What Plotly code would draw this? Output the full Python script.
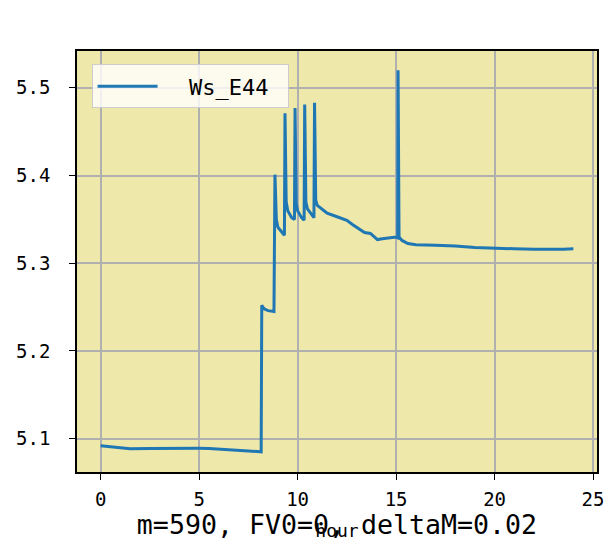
import plotly.graph_objects as go

# ---- data ----
hour = [0.0, 0.5, 1.0, 1.5, 2.5, 3.0, 4.0, 5.0, 5.5, 6.0, 6.5, 7.0, 7.5, 8.1, 8.15,
        8.18, 8.3, 8.5, 8.8,
        8.85, 8.92, 9.0, 9.2, 9.33,
        9.36, 9.42, 9.5, 9.7, 9.84,
        9.87, 9.93, 10.0, 10.2, 10.33,
        10.36, 10.42, 10.5, 10.7, 10.83,
        10.86, 10.92, 11.0, 11.3, 11.5, 12.0, 12.5, 12.8, 13.1, 13.4, 13.7, 13.9,
        14.05, 14.3, 14.7, 15.0, 15.08,
        15.1, 15.15, 15.3, 15.6, 16.0, 17.0, 18.0, 19.0, 20.0, 21.0, 22.0, 22.7,
        23.5, 24.0]
ws_e44 = [5.092, 5.091, 5.090, 5.0885, 5.0888, 5.089, 5.0892, 5.089, 5.0888, 5.088,
          5.087, 5.0865, 5.0858, 5.0845, 5.085,
          5.252, 5.248, 5.246, 5.245,
          5.401, 5.350, 5.341, 5.336, 5.332,
          5.471, 5.370, 5.360, 5.352, 5.350,
          5.477, 5.368, 5.360, 5.352, 5.349,
          5.481, 5.370, 5.362, 5.355, 5.352,
          5.483, 5.372, 5.366, 5.360, 5.357, 5.353, 5.349, 5.344, 5.339, 5.335,
          5.334, 5.330,
          5.327, 5.328, 5.329, 5.330, 5.329,
          5.520, 5.330, 5.326, 5.3225, 5.321, 5.3205, 5.3198, 5.318, 5.317,
          5.3165, 5.316, 5.3158, 5.316, 5.3165]

series_name = "Ws_E44"
title_text = "m=590, FV0=0, deltaM=0.02"
x_label = "hour"
x_ticks = [0, 5, 10, 15, 20, 25]
y_ticks = [5.1, 5.2, 5.3, 5.4, 5.5]

FONT = "DejaVu Sans Mono"

fig = go.Figure()
fig.add_trace(go.Scatter(
    x=hour, y=ws_e44, mode="lines", name="  " + series_name + " ",
    line=dict(color="#1f77b4", width=3),
))

axis_common = dict(
    showline=True, linecolor="black", linewidth=1.5, mirror=True,
    ticks="outside", ticklen=6, tickwidth=1.3, tickcolor="black",
    showgrid=True, gridcolor="#b0b0b0", gridwidth=1.6,
    zeroline=False, automargin=False,
    tickfont=dict(family=FONT, size=19, color="black"),
)

fig.update_layout(
    width=606, height=553,
    margin=dict(l=77, r=9, t=51, b=81),
    paper_bgcolor="white",
    plot_bgcolor="#EEE8AA",
    showlegend=True,
    legend=dict(
        x=0.028, y=0.968, xanchor="left", yanchor="top",
        bgcolor="rgba(255,255,255,0.8)", bordercolor="#cccccc", borderwidth=1,
        font=dict(family=FONT, size=22, color="black"),
        itemwidth=60,
    ),
    title=dict(
        text=title_text, x=0.5, xref="paper", xanchor="center",
        y=0.051, yref="container", yanchor="middle",
        font=dict(family=FONT, size=26.6, color="black"),
    ),
    xaxis=dict(
        range=[-1.2, 25.2], tickvals=x_ticks, ticklabelstandoff=3,
        title=dict(text=x_label, standoff=16, font=dict(family=FONT, size=18, color="black")),
        **axis_common,
    ),
    yaxis=dict(
        range=[5.062, 5.542], tickvals=y_ticks, tickformat=".1f", ticklabelstandoff=15,
        **axis_common,
    ),
)

# remove the default 8px page margin so the figure fills the 606x553 window exactly
fig.write_html(
    "out.html",
    config={"displayModeBar": False},
    post_script="document.body.style.margin='0';document.body.style.overflow='hidden';",
)
